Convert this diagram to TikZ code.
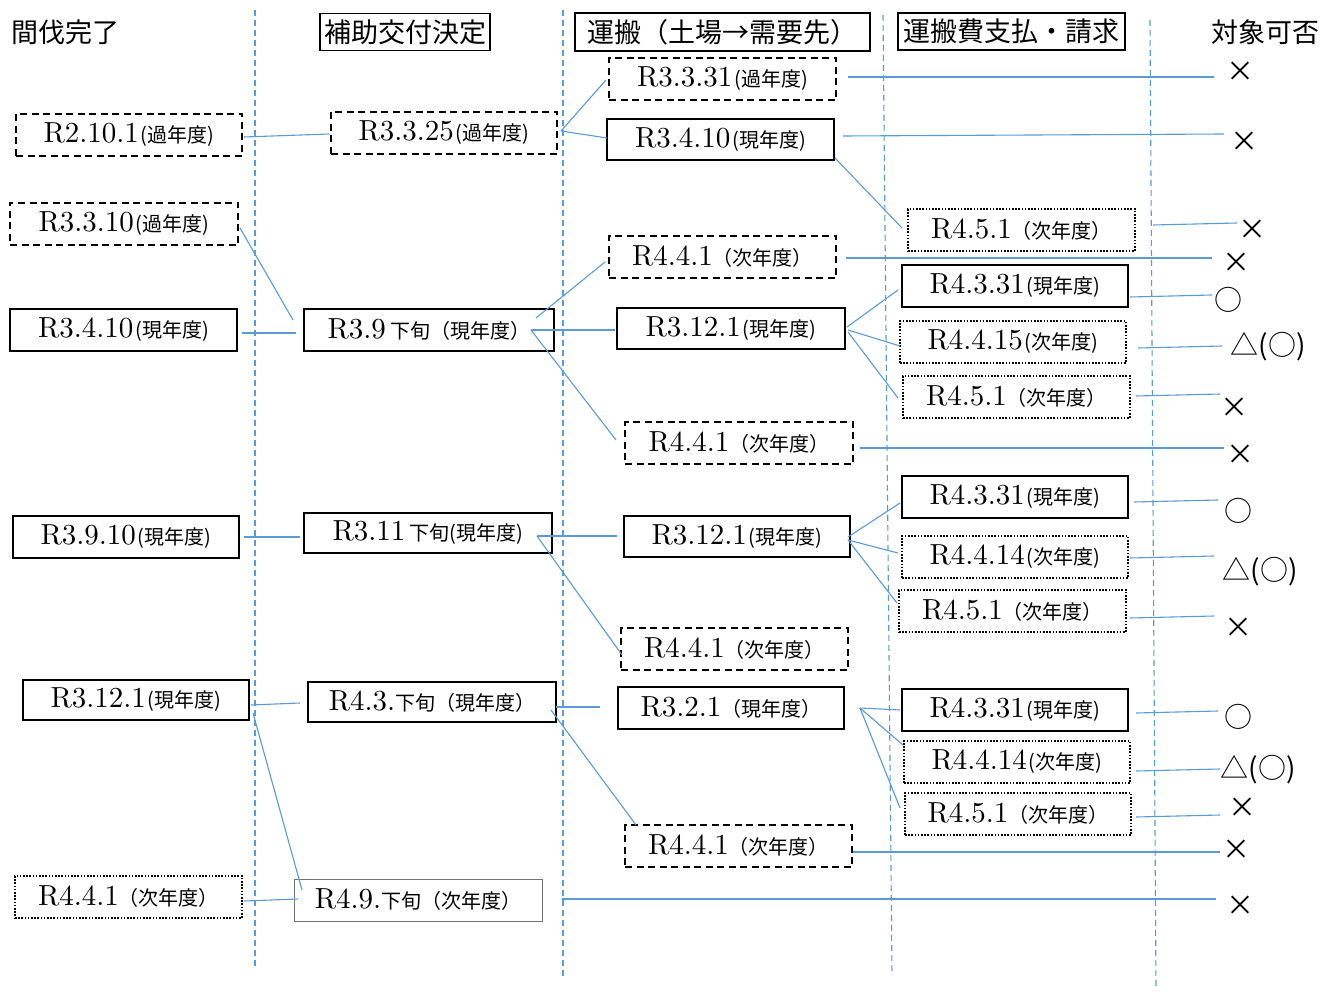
\documentclass[tikz,border=0pt]{standalone}
\usepackage{fontspec}
\newfontfamily\jp{Noto Sans CJK JP}
\newfontfamily\rnum{lmroman10-regular.otf}
\usetikzlibrary{calc}
\definecolor{conn}{HTML}{5B9BD5}
\newcommand{\rdate}[2]{{\rnum\fontsize{29}{31}\selectfont #1}{\jp\fontsize{20}{22}\selectfont #2}}
\begin{document}
\begin{tikzpicture}[x=1pt,y=-1pt,
  box/.style={draw=black, line width=1.6pt, minimum width=227pt, minimum height=42pt, inner sep=0pt},
  solidbox/.style={box},
  dashbox/.style={box, dash pattern=on 7pt off 4.5pt},
  dotbox/.style={box, line width=1.5pt, dash pattern=on 1.6pt off 1.6pt},
  thinbox/.style={box, draw=black!55, line width=0.9pt},
  headbox/.style={draw=black, line width=1.6pt, inner sep=1pt, minimum height=37pt, font=\jp\fontsize{27}{29}\selectfont},
  headtxt/.style={inner sep=0pt, font=\jp\fontsize{27}{29}\selectfont},
  judgemark/.style={inner sep=0pt, font=\jp\fontsize{28}{30}\selectfont},
  conline/.style={draw=conn, line width=1.1pt},
  guide/.style={draw=conn, line width=1.1pt, dash pattern=on 6pt off 4pt}]
\useasboundingbox (0,0) rectangle (1336,992);
\fill[white] (0,0) rectangle (1336,992);
% guides
\coordinate (g1t) at (255,10); \coordinate (g1b) at (255,968);
\coordinate (g2t) at (563,10); \coordinate (g2b) at (563,978);
\coordinate (g3t) at (883,15); \coordinate (g3b) at (892,975);
\coordinate (g4t) at (1150,20); \coordinate (g4b) at (1156,990);
\draw[guide] (g1t) -- (g1b);
\draw[guide] (g2t) -- (g2b);
\draw[guide] (g3t) -- (g3b);
\draw[guide] (g4t) -- (g4b);
% headers
\node[headtxt] (h1) at (66,32) {間伐完了};
\node[headbox, minimum width=170pt] (h2) at (405,32) {補助交付決定};
\node[headbox, minimum width=295pt, minimum height=38pt] (h3) at (722.5,32) {運搬（土場→需要先）};
\node[headbox, minimum width=227pt] (h4) at (1011.5,31.5) {運搬費支払・請求};
\node[headtxt] (h5) at (1265,32) {対象可否};
% column 1
\node[dashbox, minimum width=226pt] (a1) at (129,135) {\rdate{R2.10.1}{\kern2pt(過年度)}};
\node[dashbox, minimum width=228pt] (a2) at (124,224) {\rdate{R3.3.10}{\kern2pt(過年度)}};
\node[solidbox] (a3) at (123.5,330) {\rdate{R3.4.10}{\kern2pt(現年度)}};
\node[solidbox, minimum width=226pt] (a4) at (126,537) {\rdate{R3.9.10}{\kern2pt(現年度)}};
\node[solidbox, minimum width=226pt, minimum height=40pt] (a5) at (136,700) {\rdate{R3.12.1}{\kern2pt(現年度)}};
\node[dotbox] (a6) at (128.5,897) {\rdate{R4.4.1}{（次年度）}};
% column 2
\node[dashbox, minimum width=226pt] (b1) at (444,133) {\rdate{R3.3.25}{\kern2pt(過年度)}};
\node[solidbox, minimum width=250pt] (b2) at (429,330) {\rdate{R3.9}{ 下旬（現年度）}};
\node[solidbox, minimum width=248pt, minimum height=40pt] (b3) at (428,533) {\rdate{R3.11}{ 下旬(現年度)}};
\node[solidbox, minimum width=248pt, minimum height=40pt] (b4) at (432,702) {\rdate{R4.3.}{下旬（現年度）}};
\node[thinbox, minimum width=248pt] (b5) at (418,900) {\rdate{R4.9.}{下旬（次年度）}};
% column 3
\node[dashbox] (c1) at (722.5,79) {\rdate{R3.3.31}{\kern2pt(過年度)}};
\node[solidbox, minimum height=41pt] (c2) at (720.5,139.5) {\rdate{R3.4.10}{\kern2pt(現年度)}};
\node[dashbox] (c3) at (722.5,257) {\rdate{R4.4.1}{（次年度）}};
\node[solidbox, minimum width=228pt, minimum height=41pt] (c4) at (731,328.5) {\rdate{R3.12.1}{\kern2pt(現年度)}};
\node[dashbox, minimum width=228pt] (c5) at (739,443) {\rdate{R4.4.1}{（次年度）}};
\node[solidbox, minimum width=226pt, minimum height=41pt] (c6) at (737,536.5) {\rdate{R3.12.1}{\kern2pt(現年度)}};
\node[dashbox] (c7) at (734.5,649) {\rdate{R4.4.1}{（次年度）}};
\node[solidbox, minimum width=226pt] (c8) at (731,708) {\rdate{R3.2.1}{（現年度）}};
\node[dashbox] (c9) at (738.5,846) {\rdate{R4.4.1}{（次年度）}};
% column 4
\node[dotbox] (d1) at (1021.5,230) {\rdate{R4.5.1}{（次年度）}};
\node[solidbox, minimum width=226pt] (d2) at (1015,286) {\rdate{R4.3.31}{\kern2pt(現年度)}};
\node[dotbox, minimum width=226pt] (d3) at (1013,342) {\rdate{R4.4.15}{\kern2pt(次年度)}};
\node[dotbox] (d4) at (1016.5,397) {\rdate{R4.5.1}{（次年度）}};
\node[solidbox, minimum width=226pt] (d5) at (1015,497) {\rdate{R4.3.31}{\kern2pt(現年度)}};
\node[dotbox, minimum width=226pt] (d6) at (1015,557) {\rdate{R4.4.14}{\kern2pt(次年度)}};
\node[dotbox] (d7) at (1012.5,611) {\rdate{R4.5.1}{（次年度）}};
\node[solidbox, minimum width=226pt] (d8) at (1015,710) {\rdate{R4.3.31}{\kern2pt(現年度)}};
\node[dotbox, minimum width=226pt] (d9) at (1017,762) {\rdate{R4.4.14}{\kern2pt(次年度)}};
\node[dotbox, minimum width=226pt] (d10) at (1018,814) {\rdate{R4.5.1}{（次年度）}};
% marks
\node[judgemark] (m1) at (1240,72) {×};
\node[judgemark] (m2) at (1244,142) {×};
\node[judgemark] (m3) at (1252,230) {×};
\node[judgemark] (m4) at (1236,263) {×};
\node[judgemark] (m5) at (1228,300) {○};
\node[judgemark] (m6) at (1268,347) {△(○)};
\node[judgemark] (m7) at (1234,408) {×};
\node[judgemark] (m8) at (1240,455) {×};
\node[judgemark] (m9) at (1238,511) {○};
\node[judgemark] (m10) at (1260,572) {△(○)};
\node[judgemark] (m11) at (1238,628) {×};
\node[judgemark] (m12) at (1238,717) {○};
\node[judgemark] (m13) at (1258,770) {△(○)};
\node[judgemark] (m14) at (1242,808) {×};
\node[judgemark] (m15) at (1236,850) {×};
\node[judgemark] (m16) at (1240,906) {×};
% connectors
\draw[conline] ($(a1)+(115,2)$) -- ($(b1)+(-115,1)$);
\draw[conline] ($(b1)+(117,-2)$) -- ($(c1)+(-116.5,1)$);
\draw[conline] ($(b1)+(117,-2)$) -- ($(c2)+(-113.5,-1.5)$);
\draw[conline] ($(c1)+(125.5,-2)$) -- ($(m1)+(-26,5)$);
\draw[conline] ($(c2)+(122.5,-3.5)$) -- ($(m2)+(-20,-8)$);
\draw[conline] ($(c2)+(114.5,18.5)$) -- ($(d1)+(-119.5,-2)$);
\draw[conline] ($(d1)+(131.5,-5)$) -- ($(m3)+(-15,-7)$);
\draw[conline] ($(a2)+(116,4)$) -- ($(b2)+(-136,-10)$);
\draw[conline] ($(a3)+(118.5,3)$) -- ($(b2)+(-133,3)$);
\draw[conline] ($(b2)+(107,-12)$) -- ($(c3)+(-117.5,5)$);
\draw[conline] ($(b2)+(102,0)$) -- ($(c4)+(-116,1.5)$);
\draw[conline] ($(b2)+(102,0)$) -- ($(c5)+(-123,-3)$);
\draw[conline] ($(c3)+(123.5,1)$) -- ($(m4)+(-24,-5)$);
\draw[conline] ($(c4)+(116,-1.5)$) -- ($(d2)+(-117,4)$);
\draw[conline] ($(c4)+(117,1.5)$) -- ($(d3)+(-113,4)$);
\draw[conline] ($(c4)+(117,3.5)$) -- ($(d4)+(-118.5,1)$);
\draw[conline] ($(d2)+(115,11)$) -- ($(m5)+(-16,-5)$);
\draw[conline] ($(d3)+(125,6)$) -- ($(m6)+(-46,-1)$);
\draw[conline] ($(d4)+(119.5,-1)$) -- ($(m7)+(-14,-14)$);
\draw[conline] ($(c5)+(121,5)$) -- ($(m8)+(-16,-7)$);
\draw[conline] ($(a4)+(118,0)$) -- ($(b3)+(-128,4)$);
\draw[conline] ($(b3)+(109,3)$) -- ($(c6)+(-120,-0.5)$);
\draw[conline] ($(b3)+(109,3)$) -- ($(c7)+(-112.5,6)$);
\draw[conline] ($(c6)+(111,0.5)$) -- ($(d5)+(-115,6)$);
\draw[conline] ($(c6)+(111,3.5)$) -- ($(d6)+(-117,-4)$);
\draw[conline] ($(c6)+(111,3.5)$) -- ($(d7)+(-115.5,-8)$);
\draw[conline] ($(d5)+(119,5)$) -- ($(m9)+(-20,-11)$);
\draw[conline] ($(d6)+(115,1)$) -- ($(m10)+(-46,-16)$);
\draw[conline] ($(d7)+(117.5,7)$) -- ($(m11)+(-24,-12)$);
\draw[conline] ($(a5)+(115,5)$) -- ($(b4)+(-132,1)$);
\draw[conline] ($(a5)+(117,13)$) -- ($(b5)+(-116,-10)$);
\draw[conline] ($(b4)+(124,5)$) -- ($(c8)+(-131,-1)$);
\draw[conline] ($(b4)+(119,8)$) -- ($(c9)+(-102.5,-21)$);
\draw[conline] ($(c8)+(129,0)$) -- ($(d8)+(-115,0)$);
\draw[conline] ($(c8)+(129,0)$) -- ($(d9)+(-114,-17)$);
\draw[conline] ($(c8)+(129,0)$) -- ($(d10)+(-118,-6)$);
\draw[conline] ($(d8)+(121,3)$) -- ($(m12)+(-20,-6)$);
\draw[conline] ($(d9)+(119,9)$) -- ($(m13)+(-38,-1)$);
\draw[conline] ($(d10)+(118,3)$) -- ($(m14)+(-22,7)$);
\draw[conline] ($(c9)+(114.5,6)$) -- ($(m15)+(-16,2)$);
\draw[conline] ($(a6)+(115.5,4)$) -- ($(b5)+(-120,-1)$);
\draw[conline] ($(b5)+(144,-1)$) -- ($(m16)+(-24,-7)$);
\end{tikzpicture}
\end{document}
